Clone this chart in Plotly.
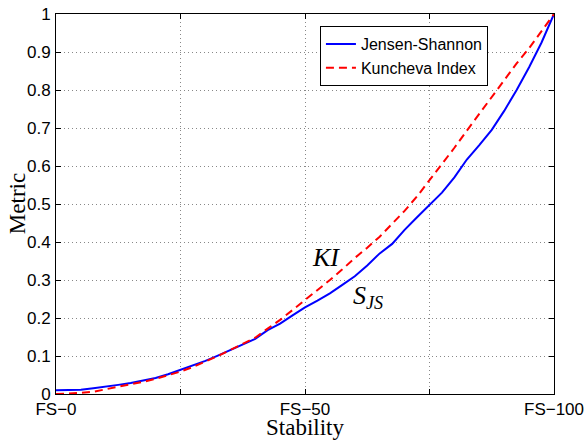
import plotly.graph_objects as go

x_vals = [0, 2.5, 5, 7.5, 10, 12.5, 15, 17.5, 20, 22.5, 25, 27.5, 30, 32.5, 35, 37.5, 40,
          42.5, 45, 47.5, 50, 52.5, 55, 57.5, 60, 62.5, 65, 67.5, 70, 72.5, 75, 77.5, 80,
          82.5, 85, 87.5, 90, 92.5, 95, 97.5, 100]
js_vals = [0.010, 0.010, 0.011, 0.015, 0.019, 0.024, 0.029, 0.035, 0.042, 0.052, 0.063, 0.074,
           0.087, 0.101, 0.116, 0.131, 0.145, 0.168, 0.185, 0.207, 0.228, 0.246, 0.265, 0.287,
           0.310, 0.338, 0.370, 0.395, 0.432, 0.465, 0.497, 0.530, 0.570, 0.617, 0.655, 0.695,
           0.745, 0.800, 0.860, 0.925, 1.0]
ki_vals = [0.000, 0.001, 0.003, 0.006, 0.012, 0.018, 0.025, 0.032, 0.040, 0.049, 0.059, 0.071,
           0.085, 0.100, 0.116, 0.132, 0.148, 0.172, 0.195, 0.221, 0.247, 0.272, 0.300, 0.328,
           0.358, 0.385, 0.414, 0.448, 0.482, 0.520, 0.562, 0.605, 0.648, 0.693, 0.738, 0.783,
           0.828, 0.870, 0.910, 0.955, 1.0]
x_tickvals = [0, 25, 50, 75, 100]
x_ticktext = ["FS\u22120", "", "FS\u221250", "", "FS\u2212100"]
y_tickvals = [0, 0.1, 0.2, 0.3, 0.4, 0.5, 0.6, 0.7, 0.8, 0.9, 1]
y_ticktext = ["0", "0.1", "0.2", "0.3", "0.4", "0.5", "0.6", "0.7", "0.8", "0.9", "1"]

fig = go.Figure()
fig.add_trace(go.Scatter(x=x_vals, y=js_vals, mode="lines", name="Jensen-Shannon",
                         line=dict(color="#0000ff", width=2)))
fig.add_trace(go.Scatter(x=x_vals, y=ki_vals, mode="lines", name="Kuncheva Index",
                         line=dict(color="#ff0000", width=2, dash="8px,5px")))

axis_common = dict(showline=True, linecolor="black", linewidth=1, mirror="ticks",
                   ticks="inside", ticklen=5, tickcolor="black",
                   showgrid=True, gridcolor="#888888", griddash="1px,3px", gridwidth=1,
                   zeroline=False, automargin=False,
                   tickfont=dict(family="Liberation Sans, Arial", size=17, color="black"))

title_font = dict(family="Liberation Serif, serif", size=23, color="black")

fig.update_xaxes(range=[0, 100], tickvals=x_tickvals, ticktext=x_ticktext, **axis_common)
fig.update_yaxes(range=[0, 1], tickvals=y_tickvals, ticktext=y_ticktext, ticklabelstandoff=1,
                 **axis_common)

fig.add_annotation(xref="paper", yref="paper", x=0.5, y=-0.088, text="Stability",
                   showarrow=False, xanchor="center", yanchor="middle", font=title_font)
fig.add_annotation(xref="paper", yref="paper", x=-0.078, y=0.5, text="Metric", textangle=-90,
                   showarrow=False, xanchor="center", yanchor="middle", font=title_font)

fig.add_annotation(x=54.2, y=0.36, text="<i>KI</i>", showarrow=False,
                   font=dict(family="Liberation Serif, serif", size=26, color="black"))
fig.add_annotation(x=62.6, y=0.255, text="<i>S</i><sub><i>JS</i></sub>", showarrow=False,
                   font=dict(family="Liberation Serif, serif", size=26, color="black"))

fig.update_layout(
    width=585, height=441,
    margin=dict(l=56, r=31, t=14, b=47),
    paper_bgcolor="white", plot_bgcolor="white",
    showlegend=True,
    legend=dict(x=0.53, y=0.968, xanchor="left", yanchor="top",
                bgcolor="white", bordercolor="black", borderwidth=1,
                font=dict(family="Liberation Sans, Arial", size=16, color="black"),
                tracegroupgap=0, itemwidth=30),
)

fig.write_html("out.html")
